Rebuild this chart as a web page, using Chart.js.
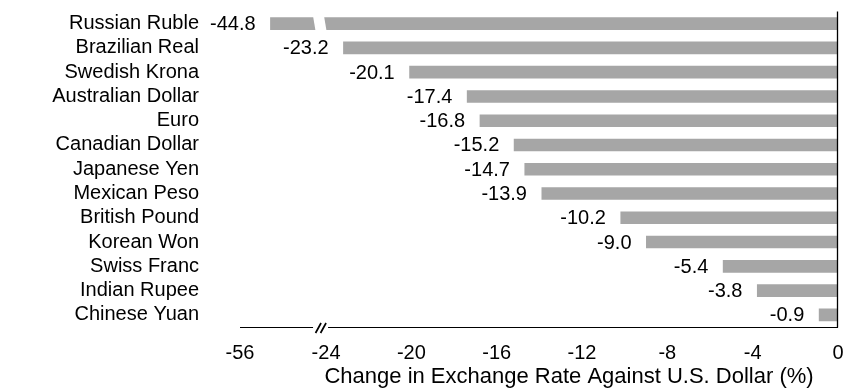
<!DOCTYPE html>
<html>
<head>
<meta charset="utf-8">
<script src="https://cdn.jsdelivr.net/npm/chart.js@4/dist/chart.umd.min.js"></script>
<style>
  html, body { margin: 0; padding: 0; background: #ffffff; }
  #wrap { width: 846px; height: 388px; }
</style>
</head>
<body>
<div id="wrap"><canvas id="fx" width="846" height="388"></canvas></div>
<script>
// Currencies, top to bottom
const currencies = [
  'Russian Ruble', 'Brazilian Real', 'Swedish Krona', 'Australian Dollar', 'Euro',
  'Canadian Dollar', 'Japanese Yen', 'Mexican Peso', 'British Pound', 'Korean Won',
  'Swiss Franc', 'Indian Rupee', 'Chinese Yuan'
];
// Change in exchange rate against the U.S. dollar, percent
const changePct = [-44.8, -23.2, -20.1, -17.4, -16.8, -15.2, -14.7, -13.9, -10.2, -9.0, -5.4, -3.8, -0.9];
// Value-axis tick labels
const axisTicks = [-56, -24, -20, -16, -12, -8, -4, 0];
// Axis break: everything left of this value is compressed
const axisBreak = -24;
const axisTitle = 'Change in Exchange Rate Against U.S. Dollar (%)';

const FONT = '"Liberation Sans", Arial, Helvetica, sans-serif';
const INK = '#000000';
const BAR = '#a6a6a6';

// Linear scale with a compressed segment below options.breakAt
class BrokenLinearScale extends Chart.LinearScale {
  _brokenDecimal(value) {
    const {breakAt, breakFraction} = this.options;
    if (value >= breakAt) {
      return breakFraction + (value - breakAt) / (this.max - breakAt) * (1 - breakFraction);
    }
    return (value - this.min) / (breakAt - this.min) * breakFraction;
  }
  getPixelForValue(value) {
    if (value === null || value === undefined) return NaN;
    return this.getPixelForDecimal(this._brokenDecimal(value));
  }
  getValueForPixel(pixel) {
    const {breakAt, breakFraction} = this.options;
    const d = this.getDecimalForPixel(pixel);
    if (d >= breakFraction) {
      return breakAt + (d - breakFraction) / (1 - breakFraction) * (this.max - breakAt);
    }
    return this.min + d / breakFraction * (breakAt - this.min);
  }
}
BrokenLinearScale.id = 'brokenLinear';
BrokenLinearScale.defaults = {};
Chart.register(BrokenLinearScale);

// Axis line with break marks, zero line, cut through long bars, value labels, axis title
const decorations = {
  id: 'decorations',
  afterDatasetsDraw(chart) {
    const {ctx, chartArea: area, scales: {x}} = chart;
    const meta = chart.getDatasetMeta(0);
    const pb = x.getPixelForValue(axisBreak);
    const zero = x.getPixelForValue(0);
    const axisY = Math.round(area.bottom) + 0.5;
    ctx.save();

    // white slanted gap through bars that run past the break
    ctx.fillStyle = '#ffffff';
    meta.data.forEach((bar, i) => {
      if (changePct[i] >= axisBreak) return;
      const top = bar.y - bar.height / 2 - 1;
      const bottom = bar.y + bar.height / 2 + 1;
      ctx.beginPath();
      ctx.moveTo(pb - 13, top);
      ctx.lineTo(pb - 2, top);
      ctx.lineTo(pb + 0.5, bottom);
      ctx.lineTo(pb - 10.5, bottom);
      ctx.closePath();
      ctx.fill();
    });

    // zero line
    ctx.strokeStyle = INK;
    ctx.lineWidth = 1.3;
    ctx.beginPath();
    ctx.moveTo(zero - 0.5, area.top);
    ctx.lineTo(zero - 0.5, axisY);
    ctx.stroke();

    // horizontal axis, interrupted at the break
    ctx.lineWidth = 1;
    ctx.beginPath();
    ctx.moveTo(area.left, axisY);
    ctx.lineTo(pb - 13, axisY);
    ctx.moveTo(pb + 2, axisY);
    ctx.lineTo(zero, axisY);
    ctx.stroke();

    // break marks
    ctx.lineWidth = 1.7;
    ctx.beginPath();
    ctx.moveTo(pb - 10.5, axisY + 5.5);
    ctx.lineTo(pb - 5, axisY - 4.5);
    ctx.moveTo(pb - 5.5, axisY + 5.5);
    ctx.lineTo(pb, axisY - 4.5);
    ctx.stroke();

    // value labels left of each bar end
    ctx.fillStyle = INK;
    ctx.font = '20px ' + FONT;
    ctx.textAlign = 'right';
    ctx.textBaseline = 'middle';
    meta.data.forEach((bar, i) => {
      ctx.fillText(changePct[i].toFixed(1), bar.x - 14.5, bar.y + 1);
    });

    // axis title, centred under the scale
    ctx.font = '22px ' + FONT;
    ctx.textAlign = 'center';
    ctx.fillText(axisTitle, (pb + zero) / 2 - 13, 377);
    ctx.restore();
  }
};

new Chart(document.getElementById('fx'), {
  type: 'bar',
  data: {
    labels: currencies,
    datasets: [{
      data: changePct,
      backgroundColor: BAR,
      borderWidth: 0,
      barPercentage: 0.52,
      categoryPercentage: 1
    }]
  },
  options: {
    indexAxis: 'y',
    responsive: false,
    devicePixelRatio: 1,
    animation: false,
    events: [],
    layout: { padding: { top: 11.5, right: 8, bottom: 0, left: 0 } },
    plugins: {
      legend: { display: false },
      tooltip: { enabled: false }
    },
    scales: {
      x: {
        type: 'brokenLinear',
        position: 'bottom',
        min: -56,
        max: 0,
        breakAt: axisBreak,
        breakFraction: 0.1439,
        grid: { display: false, drawTicks: false },
        border: { display: false },
        afterBuildTicks: (axis) => { axis.ticks = axisTicks.map(v => ({ value: v })); },
        afterFit: (axis) => {
          axis.height = 61;
          axis.paddingLeft = 0;
          axis.paddingRight = 0;
        },
        ticks: {
          autoSkip: false,
          maxRotation: 0,
          minRotation: 0,
          padding: 14,
          color: INK,
          font: { family: FONT, size: 20 },
          callback: (v) => String(v)
        }
      },
      y: {
        type: 'category',
        position: 'left',
        grid: { display: false, drawTicks: false },
        border: { display: false },
        afterFit: (axis) => {
          axis.width = 240;
          axis.paddingTop = 0;
          axis.paddingBottom = 0;
        },
        ticks: {
          autoSkip: false,
          padding: 41,
          color: INK,
          font: { family: FONT, size: 20 }
        }
      }
    }
  },
  plugins: [decorations]
});
</script>
</body>
</html>
